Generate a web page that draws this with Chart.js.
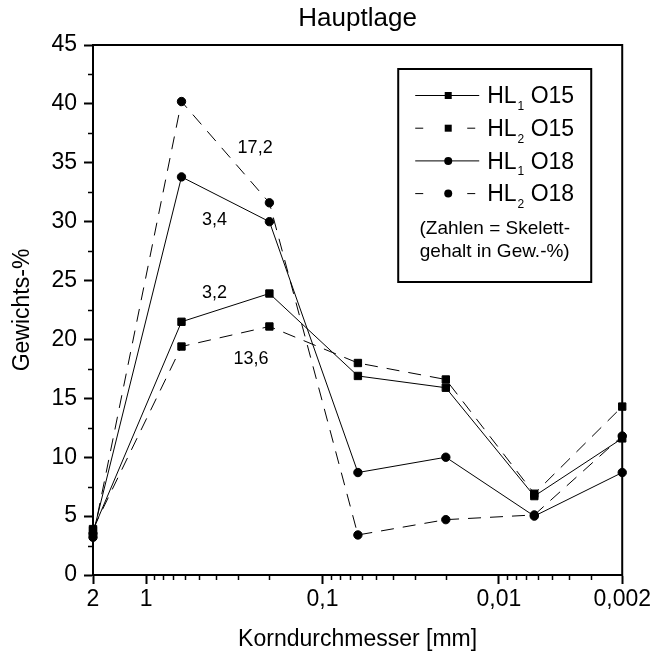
<!DOCTYPE html>
<html>
<head>
<meta charset="utf-8">
<script src="https://cdn.jsdelivr.net/npm/chart.js@4.4.1/dist/chart.umd.min.js"></script>
<style>
  html, body { margin: 0; padding: 0; background: #fff; }
  canvas { display: block; }
</style>
</head>
<body>
<canvas id="c" width="653" height="655"></canvas>
<script>
const FONT = '"Liberation Sans", Arial, Helvetica, sans-serif';

// Korngrößenklassen (mm)
const sizes = [2, 0.63, 0.2, 0.063, 0.02, 0.0063, 0.002];

// Gewichtsanteile je Fraktion (%)
const hl1O15 = [3.8, 21.5, 23.9, 16.9, 15.9, 6.7, 11.6];
const hl2O15 = [3.9, 19.4, 21.1, 18.0, 16.6, 6.9, 14.3];
const hl1O18 = [3.5, 33.8, 30.0, 8.7, 10.0, 5.0, 8.7];
const hl2O18 = [3.2, 40.2, 31.6, 3.4, 4.7, 5.1, 11.8];

// Legendentexte: Grundtext, Index, Zusatz
const seriesBase = ['HL', 'HL', 'HL', 'HL'];
const seriesSub = ['1', '2', '1', '2'];
const seriesSuffix = ['O15', 'O15', 'O18', 'O18'];
const noteLines = ['(Zahlen = Skelett-', 'gehalt in Gew.-%)'];

// Achsenbeschriftung
const xTickValues = [2, 1, 0.1, 0.01, 0.002];
const xMinorValues = [0.9, 0.8, 0.7, 0.6, 0.5, 0.4, 0.3, 0.2,
                      0.09, 0.08, 0.07, 0.06, 0.05, 0.04, 0.03, 0.02,
                      0.009, 0.008, 0.007, 0.006, 0.005, 0.004, 0.003];
const yMinorValues = [2.5, 7.5, 12.5, 17.5, 22.5, 27.5, 32.5, 37.5, 42.5];

// Skelettgehalte (Gew.-%) als Beschriftung im Diagramm
const skelettText = ['17,2', '3,4', '3,2', '13,6'];
const skelettX = [0.241, 0.41, 0.41, 0.254];
const skelettY = [36.25, 30.1, 23.95, 18.3];

const DASH = [13, 9];

function series(values, label, dashed, style, radius) {
  return {
    label: label,
    data: sizes.map((x, i) => ({ x: x, y: values[i] })),
    borderColor: '#000',
    backgroundColor: '#000',
    borderWidth: 1,
    borderDash: dashed ? DASH : [],
    pointStyle: style,
    pointRadius: radius,
    pointBorderWidth: 1,
    pointBorderColor: '#000',
    pointBackgroundColor: '#000',
    tension: 0,
    clip: false
  };
}

const decor = {
  id: 'decor',
  afterDraw(chart) {
    const ctx = chart.ctx;
    const ca = chart.chartArea;
    const xs = chart.scales.x, ys = chart.scales.y;
    ctx.save();

    // Rahmen oben und rechts
    ctx.strokeStyle = '#000';
    ctx.lineWidth = 2;
    ctx.lineCap = 'square';
    ctx.beginPath();
    ctx.moveTo(ca.left, ca.top);
    ctx.lineTo(ca.right, ca.top);
    ctx.lineTo(ca.right, ca.bottom);
    ctx.stroke();

    // Zwischenstriche
    ctx.lineCap = 'butt';
    ctx.lineWidth = 1.5;
    ctx.beginPath();
    xMinorValues.forEach(v => {
      const px = Math.round(xs.getPixelForValue(v)) + 0.5;
      ctx.moveTo(px, ca.bottom);
      ctx.lineTo(px, ca.bottom + 5);
    });
    yMinorValues.forEach(v => {
      const py = Math.round(ys.getPixelForValue(v)) + 0.5;
      ctx.moveTo(ca.left - 5, py);
      ctx.lineTo(ca.left, py);
    });
    ctx.stroke();

    // Skelettgehalte
    ctx.fillStyle = '#000';
    ctx.font = '18px ' + FONT;
    ctx.textAlign = 'center';
    ctx.textBaseline = 'middle';
    skelettText.forEach((t, i) => {
      ctx.fillText(t, xs.getPixelForValue(skelettX[i]), ys.getPixelForValue(skelettY[i]));
    });

    // Legende
    const bx = ca.right - 224, by = ca.top + 24, bw = 193, bh = 213;
    ctx.fillStyle = '#fff';
    ctx.fillRect(bx, by, bw, bh);
    ctx.strokeStyle = '#000';
    ctx.lineWidth = 2;
    ctx.strokeRect(bx, by, bw, bh);

    chart.data.datasets.forEach((ds, i) => {
      const y = by + 26 + i * 32.7;
      const x0 = bx + 17, x1 = bx + 81, xm = bx + 50;
      ctx.lineWidth = 1;
      ctx.strokeStyle = '#000';
      ctx.setLineDash(ds.borderDash.length ? [8, 44] : []);
      ctx.beginPath();
      ctx.moveTo(x0, y + 0.5);
      ctx.lineTo(x1, y + 0.5);
      ctx.stroke();
      ctx.setLineDash([]);
      ctx.fillStyle = '#000';
      if (ds.pointStyle === 'rect') {
        ctx.fillRect(xm - 3.5, y - 3, 7, 7);
      } else {
        ctx.beginPath();
        ctx.arc(xm, y + 0.5, 4, 0, Math.PI * 2);
        ctx.fill();
      }
      const tx = bx + 89;
      const base = y + 8.3;
      ctx.textAlign = 'left';
      ctx.textBaseline = 'alphabetic';
      ctx.font = '23px ' + FONT;
      ctx.fillText(seriesBase[i], tx, base);
      let w = ctx.measureText(seriesBase[i]).width;
      ctx.font = '12px ' + FONT;
      ctx.fillText(seriesSub[i], tx + w + 1, base + 6.5);
      w += 1 + ctx.measureText(seriesSub[i]).width;
      ctx.font = '23px ' + FONT;
      ctx.fillText(' ' + seriesSuffix[i], tx + w, base);
    });

    ctx.font = '19px ' + FONT;
    ctx.textAlign = 'center';
    ctx.textBaseline = 'middle';
    noteLines.forEach((t, i) => {
      ctx.fillText(t, bx + bw / 2, by + 160 + i * 23);
    });

    ctx.restore();
  }
};

const axisFont = { family: FONT, size: 23 };

new Chart(document.getElementById('c'), {
  type: 'line',
  data: {
    datasets: [
      series(hl1O15, 'HL1 O15', false, 'rect', 5.2),
      series(hl2O15, 'HL2 O15', true, 'rect', 5.2),
      series(hl1O18, 'HL1 O18', false, 'circle', 4.2),
      series(hl2O18, 'HL2 O18', true, 'circle', 4.2)
    ]
  },
  options: {
    responsive: false,
    devicePixelRatio: 1,
    animation: false,
    layout: { padding: { top: 0, right: 28, bottom: 0, left: 0 } },
    plugins: {
      legend: { display: false },
      tooltip: { enabled: false },
      title: {
        display: true,
        fullSize: false,
        text: 'Hauptlage',
        color: '#000',
        font: { family: FONT, size: 26, weight: 'normal' },
        padding: { top: 3, bottom: 10.8 }
      }
    },
    scales: {
      x: {
        type: 'logarithmic',
        min: 0.002,
        max: 2,
        reverse: true,
        afterBuildTicks: s => { s.ticks = xTickValues.map(v => ({ value: v })); },
        afterFit: s => { s.height = 80; },
        ticks: {
          autoSkip: false,
          maxRotation: 0,
          padding: 2,
          color: '#000',
          font: axisFont,
          callback: v => String(v).replace('.', ',')
        },
        grid: {
          drawOnChartArea: false,
          drawTicks: true,
          tickLength: 9,
          tickWidth: 2,
          tickColor: '#000',
          color: '#000'
        },
        border: { display: true, color: '#000', width: 2 },
        title: {
          display: true,
          text: 'Korndurchmesser [mm]',
          color: '#000',
          font: axisFont,
          padding: { top: 0, bottom: 2 }
        }
      },
      y: {
        type: 'linear',
        min: 0,
        max: 45,
        afterFit: s => { s.width = 93; },
        ticks: {
          stepSize: 5,
          padding: 7,
          color: '#000',
          font: axisFont
        },
        grid: {
          drawOnChartArea: false,
          drawTicks: true,
          tickLength: 9,
          tickWidth: 2,
          tickColor: '#000',
          color: '#000'
        },
        border: { display: true, color: '#000', width: 2 },
        title: {
          display: true,
          text: 'Gewichts-%',
          color: '#000',
          font: axisFont,
          padding: { top: 9, bottom: 0 }
        }
      }
    }
  },
  plugins: [decor]
});
</script>
</body>
</html>
